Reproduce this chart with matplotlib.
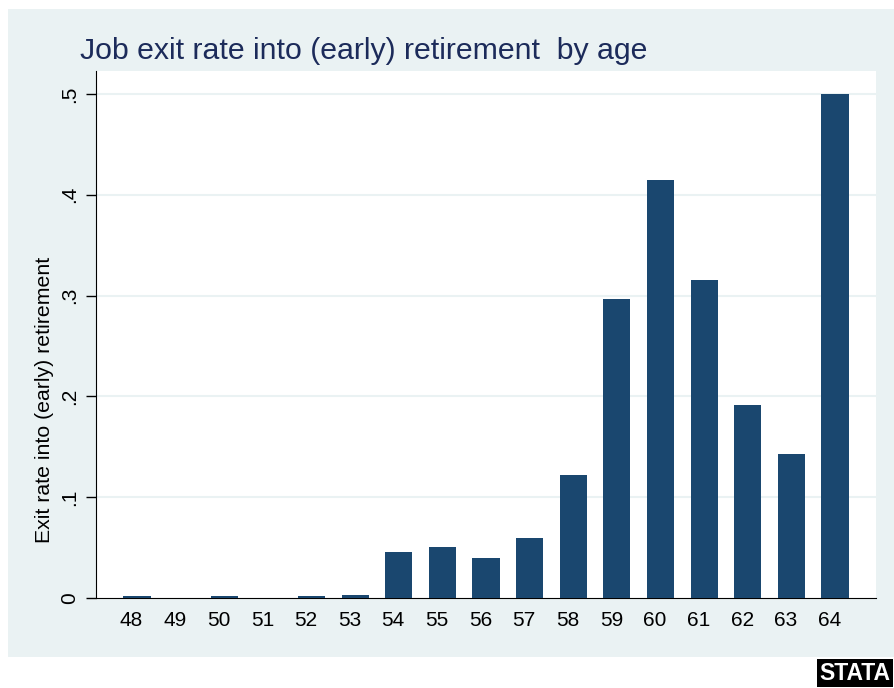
import matplotlib.pyplot as plt
import matplotlib.transforms as mtransforms
from matplotlib.patches import Rectangle

# data
ages = [48, 49, 50, 51, 52, 53, 54, 55, 56, 57, 58, 59, 60, 61, 62, 63, 64]
exit_rate = [0.002, 0.0, 0.002, 0.0, 0.002, 0.003, 0.046, 0.051, 0.040, 0.060,
             0.122, 0.297, 0.415, 0.315, 0.191, 0.143, 0.500]
yticks = [0, 0.1, 0.2, 0.3, 0.4, 0.5]
ytick_labels = ["0", ".1", ".2", ".3", ".4", ".5"]

navy = "#1a476f"
bluishgray = "#eaf2f3"
title_col = "#1c2b5a"

plt.rcParams["font.family"] = ["Liberation Sans", "DejaVu Sans"]

W, H = 895, 688
fig = plt.figure(figsize=(W / 100, H / 100), dpi=100, facecolor="white")

# graph region (behind the plot)
fig.patches.append(Rectangle((8 / W, 1 - 657 / H), 1 - 8 / W, (657 - 9) / H,
                             transform=fig.transFigure, facecolor=bluishgray,
                             edgecolor="none", zorder=-5))

ax = fig.add_axes([96 / W, 1 - 598 / H, (876 - 96) / W, (598 - 71) / H])
ax.set_zorder(2)
ax.set_facecolor("white")
ax.bar(ages, exit_rate, width=0.62, color=navy, zorder=3)

ax.set_xlim(47.06, 64.94)
ax.set_ylim(0, 0.5228)
ax.set_xticks(ages)
ax.set_xticklabels([str(a) for a in ages])
ax.set_yticks(yticks)
ax.set_yticklabels(ytick_labels, rotation=90, va="center")
ax.tick_params(axis="x", length=0, pad=9, labelsize=15)
ax.tick_params(axis="y", length=7, width=1, pad=5, labelsize=15)

# category labels sit slightly left of the bar centres in the original
shift = mtransforms.ScaledTranslation(-5.5 / 100, 0, fig.dpi_scale_trans)
for lab in ax.get_xticklabels():
    lab.set_transform(lab.get_transform() + shift)

for y in yticks[1:]:
    ax.axhline(y, color=bluishgray, lw=1.5, zorder=1)

for s in ["top", "right"]:
    ax.spines[s].set_visible(False)
ax.spines["left"].set_color("black")
ax.spines["bottom"].set_color("black")

fig.text(80 / W, 1 - 51 / H, "Job exit rate into (early) retirement  by age",
         fontsize=21.8, color=title_col, va="center", ha="left")
fig.text(45 / W, 1 - 400 / H, "Exit rate into (early) retirement",
         fontsize=15.3, rotation=90, va="center", ha="center", color="black")

# logo
fig.text(855 / W, 1 - 673 / H, "STATA", fontsize=16.5, fontweight="bold",
         color="white", ha="center", va="center",
         bbox=dict(boxstyle="square,pad=0.1", facecolor="black", edgecolor="none"))

fig.savefig("out.png", dpi=100, facecolor="white")
